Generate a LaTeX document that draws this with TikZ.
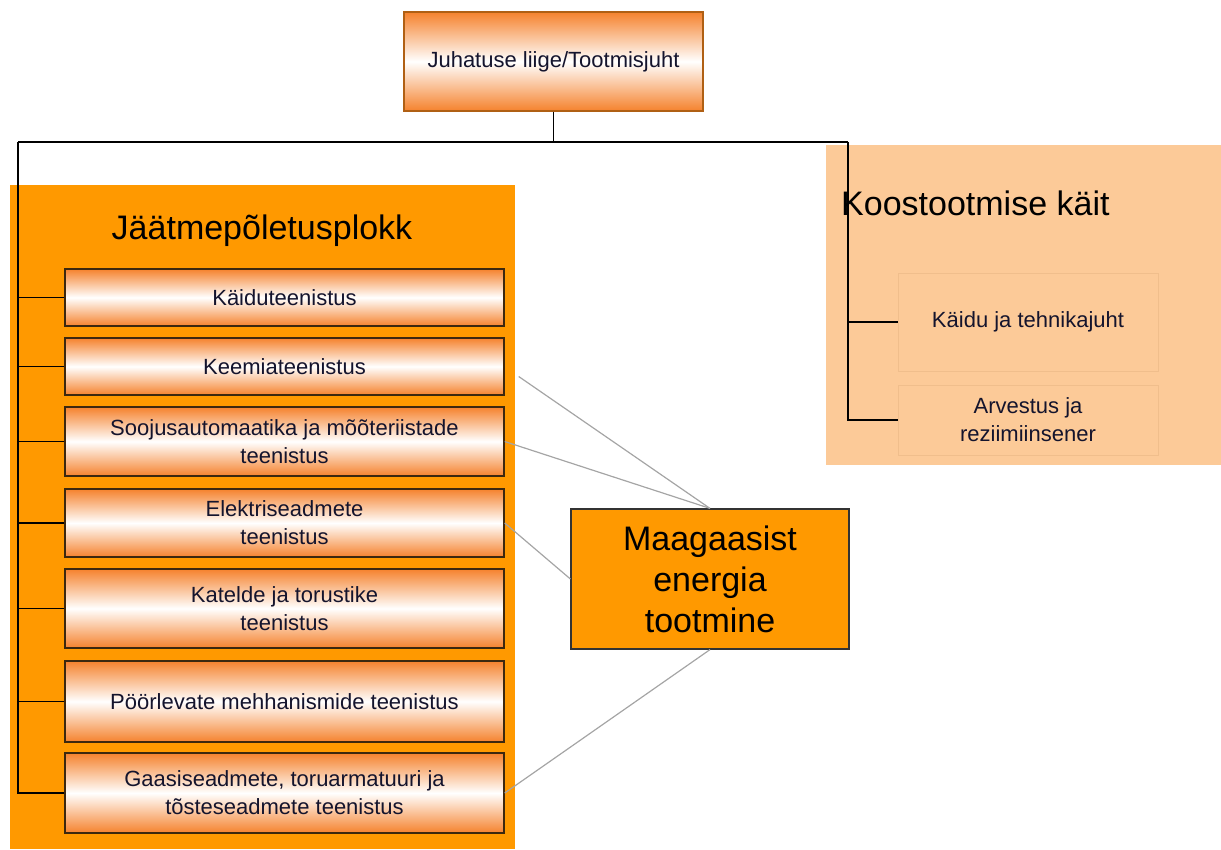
\documentclass[tikz,border=0pt]{standalone}
\usepackage{fontspec}
\setmainfont{Liberation Sans}
\definecolor{plokk}{RGB}{255,153,0}
\definecolor{koost}{RGB}{252,202,152}
\definecolor{koostrand}{RGB}{240,190,140}
\definecolor{grad}{RGB}{245,130,45}
\definecolor{rand}{RGB}{60,40,15}
\definecolor{juhrand}{RGB}{176,96,20}
\definecolor{tekst}{RGB}{20,20,45}
\definecolor{joon}{RGB}{165,165,165}

\begin{document}
\begin{tikzpicture}[x=1pt, y=-1pt,
  dienst/.style={rectangle, draw=rand, line width=1.4pt, top color=grad, bottom color=grad, middle color=white, text=tekst, align=center},
  pealkiri/.style={font=\fontsize{34}{40}\selectfont}]

\useasboundingbox (0,0) rectangle (1221,849);

% taustad
\begin{scope}[rectangle, inner sep=0pt]
  \node[fill=plokk, minimum width=505, minimum height=664] (JP) at ( 262.5,517) {};
  \node[fill=koost, minimum width=395, minimum height=320] (KK) at (1023.5,305) {};
\end{scope}

\node[pealkiri]                           (JP_T) at (262,231) {Jäätmepõletusplokk};
\node[pealkiri, anchor=west, inner sep=0] (KK_T) at (841,203) {Koostootmise käit};

\node[dienst, draw=juhrand, minimum width=299, minimum height=99, font=\fontsize{22}{28}\selectfont] (JU) at (553.5,61.5) {Juhatuse liige/Tootmisjuht};

\begin{scope}[minimum width=439, font=\fontsize{22}{28}\selectfont]
  \node[dienst, minimum height=57] (JP_A) at (284.5,297.5) {Käiduteenistus};
  \node[dienst, minimum height=57] (JP_B) at (284.5,366.5) {Keemiateenistus};
  \node[dienst, minimum height=69] (JP_C) at (284.5,441.5) {Soojusautomaatika ja mõõteriistade\\teenistus};
  \node[dienst, minimum height=68] (JP_D) at (284.5,523  ) {Elektriseadmete\\teenistus};
  \node[dienst, minimum height=79] (JP_E) at (284.5,608.5) {Katelde ja torustike\\teenistus};
  \node[dienst, minimum height=81] (JP_F) at (284.5,701.5) {Pöörlevate mehhanismide teenistus};
  \node[dienst, minimum height=80] (JP_G) at (284.5,793  ) {Gaasiseadmete, toruarmatuuri ja\\tõsteseadmete teenistus};
\end{scope}

\begin{scope}[rectangle, minimum width=260, align=center, text=tekst, font=\fontsize{22}{28}\selectfont]
  \node[draw=koostrand, minimum height=98] (KK_A) at (1028,322) {Käidu ja tehnikajuht};
  \node[draw=koostrand, minimum height=70] (KK_B) at (1028,420) {Arvestus ja\\reziimiinsener};
\end{scope}

\node[rectangle, fill=plokk, draw=black!80, line width=1.2pt, minimum width=278, minimum height=140, align=center, font=\fontsize{34}{41}\selectfont] (MG) at (710,579) {Maagaasist\\energia\\tootmine};

\coordinate (JP_bus) at ( 18,142);
\coordinate (KK_bus) at (848,142);

\begin{scope}[line width=1.7pt]
\draw (JU) -- (JU |- JP_bus);
\draw (JP_bus) -- (KK_bus);
\draw (JP_bus) |- (JP_G);
\foreach \b in {A,...,F}
  \draw (JP_bus |- JP_\b) -- (JP_\b);
\draw (KK_bus) |- (KK_B);
\draw (KK_bus |- KK_A) -- (KK_A);
\end{scope}

\begin{scope}[joon, line width=1.2pt]
\path ([shift={(14,10)}]JP_B.east) edge (MG.north);
\path (JP_C.east) edge (MG.north);
\path (JP_D.east) edge (MG.west);
\path (JP_G.east) edge (MG.south);
\end{scope}

\end{tikzpicture}
\end{document}
